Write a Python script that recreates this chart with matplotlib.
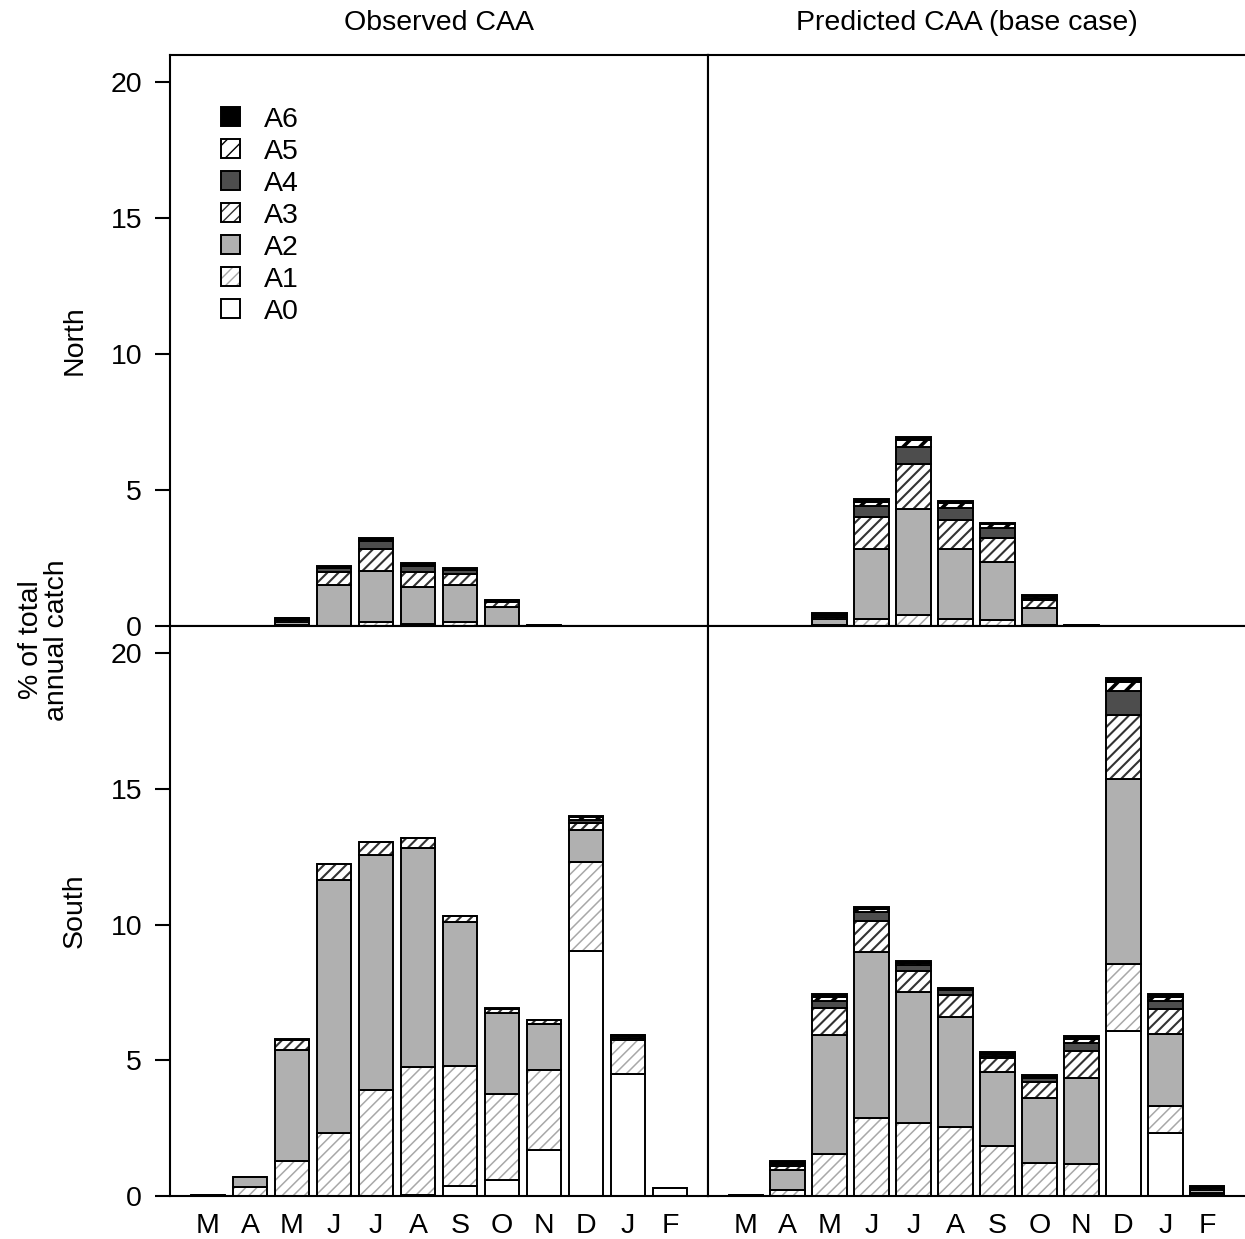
import numpy as np
import matplotlib
matplotlib.use("Agg")
import matplotlib.pyplot as plt
from matplotlib.patches import Patch

plt.rcParams['font.family'] = ['Liberation Sans', 'DejaVu Sans']

months = ["M", "A", "M", "J", "J", "A", "S", "O", "N", "D", "J", "F"]
ages = ["A0", "A1", "A2", "A3", "A4", "A5", "A6"]

# % of total annual catch, one row per age class (A0..A6), Mar..Feb
obs_north = [
    [0, 0, 0, 0, 0, 0, 0, 0, 0, 0, 0, 0],
    [0, 0, 0.02, 0, 0.16, 0.07, 0.15, 0, 0, 0, 0, 0],
    [0, 0, 0.13, 1.50, 1.88, 1.35, 1.37, 0.69, 0.03, 0, 0, 0],
    [0, 0, 0.08, 0.50, 0.80, 0.56, 0.39, 0.20, 0.01, 0, 0, 0],
    [0, 0, 0.04, 0.15, 0.27, 0.23, 0.16, 0.04, 0.01, 0, 0, 0],
    [0, 0, 0.02, 0.03, 0.05, 0.04, 0.03, 0.02, 0, 0, 0, 0],
    [0, 0, 0.02, 0.04, 0.07, 0.08, 0.04, 0.02, 0, 0, 0, 0],
]
pred_north = [
    [0, 0, 0, 0, 0, 0, 0, 0, 0, 0, 0, 0],
    [0, 0, 0.02, 0.25, 0.40, 0.26, 0.22, 0.02, 0, 0, 0, 0],
    [0, 0, 0.22, 2.60, 3.89, 2.56, 2.12, 0.65, 0.02, 0, 0, 0],
    [0, 0, 0.10, 1.16, 1.65, 1.08, 0.90, 0.28, 0.01, 0, 0, 0],
    [0, 0, 0.07, 0.39, 0.65, 0.43, 0.37, 0.08, 0.01, 0, 0, 0],
    [0, 0, 0.04, 0.16, 0.25, 0.18, 0.14, 0.06, 0, 0, 0, 0],
    [0, 0, 0.02, 0.10, 0.12, 0.08, 0.05, 0.05, 0, 0, 0, 0],
]
obs_south = [
    [0, 0, 0, 0, 0, 0.05, 0.37, 0.59, 1.69, 9.04, 4.48, 0.30],
    [0, 0.33, 1.29, 2.32, 3.90, 4.70, 4.41, 3.16, 2.94, 3.28, 1.25, 0],
    [0.03, 0.37, 4.08, 9.33, 8.65, 8.08, 5.33, 3.00, 1.69, 1.18, 0.10, 0],
    [0, 0, 0.38, 0.60, 0.50, 0.37, 0.22, 0.15, 0.18, 0.25, 0.05, 0],
    [0, 0, 0, 0, 0, 0, 0, 0, 0, 0.10, 0.04, 0],
    [0, 0, 0, 0, 0, 0, 0, 0, 0, 0.10, 0, 0],
    [0, 0, 0.02, 0, 0, 0, 0, 0.02, 0, 0.05, 0.02, 0],
]
pred_south = [
    [0, 0, 0, 0, 0, 0, 0, 0, 0, 6.07, 2.32, 0.05],
    [0, 0.22, 1.55, 2.87, 2.68, 2.54, 1.84, 1.20, 1.18, 2.46, 0.99, 0.05],
    [0.03, 0.74, 4.37, 6.13, 4.82, 4.06, 2.72, 2.40, 3.16, 6.84, 2.65, 0.12],
    [0.01, 0.13, 1.01, 1.15, 0.80, 0.80, 0.51, 0.59, 0.99, 2.35, 0.92, 0.06],
    [0.01, 0.08, 0.27, 0.30, 0.20, 0.18, 0.10, 0.15, 0.29, 0.88, 0.32, 0.06],
    [0, 0.06, 0.15, 0.14, 0.10, 0.06, 0.05, 0.05, 0.16, 0.34, 0.15, 0],
    [0, 0.05, 0.08, 0.07, 0.04, 0.04, 0.08, 0.06, 0.10, 0.14, 0.08, 0.03],
]

# fill, hatch, hatch colour, hatch width for A0..A6
styles = [
    ("white", "", "black", 1.0),
    ("white", "///", "#a8a8a8", 1.1),
    ("#b0b0b0", "", "black", 1.0),
    ("white", "///", "#333333", 1.5),
    ("#4d4d4d", "", "black", 1.0),
    ("white", "//", "black", 2.6),
    ("black", "", "black", 1.0),
]

FS = 20.5


def fill_patch(fc, ht, hc, hw, **kw):
    with plt.rc_context({'hatch.linewidth': hw}):
        p = Patch(facecolor=fc, hatch=ht, edgecolor=hc, linewidth=0, **kw)
    return p


def stack(ax, data):
    x = np.arange(len(months))
    bottom = np.zeros(len(months))
    for vals, (fc, ht, hc, hw) in zip(data, styles):
        vals = np.array(vals, dtype=float)
        with plt.rc_context({'hatch.linewidth': hw}):
            b = ax.bar(x, vals, 0.83, bottom=bottom, color=fc, hatch=ht,
                       edgecolor=hc, linewidth=0)
            for p in b:
                try:
                    p.set_hatch_linewidth(hw)
                except AttributeError:
                    pass
        ax.bar(x, vals, 0.83, bottom=bottom, fill=False, edgecolor="black",
               linewidth=1.4)
        bottom += vals
    ax.set_xlim(-0.905, 11.905)
    ax.set_ylim(0, 21)


fig = plt.figure(figsize=(12.45, 12.39), dpi=100)
L, M = 170 / 1245, 708 / 1245
yb, ym, yt = 1 - 1196 / 1239, 1 - 626 / 1239, 1 - 55 / 1239
ax_on = fig.add_axes([L, ym, M - L, yt - ym])
ax_pn = fig.add_axes([M, ym, 1 - M, yt - ym])
ax_os = fig.add_axes([L, yb, M - L, ym - yb])
ax_ps = fig.add_axes([M, yb, 1 - M, ym - yb])

for ax, d in [(ax_on, obs_north), (ax_pn, pred_north),
              (ax_os, obs_south), (ax_ps, pred_south)]:
    stack(ax, d)
    for s in ax.spines.values():
        s.set_linewidth(1.5)
    ax.spines['right'].set_visible(ax in (ax_on, ax_os))
    ax.tick_params(axis='x', length=0, pad=12, labelsize=FS)
    ax.tick_params(axis='y', length=11, width=1.5, pad=9, labelsize=FS)
    ax.set_yticks([0, 5, 10, 15, 20])
    ax.set_xticks(np.arange(len(months)))
    if ax in (ax_os, ax_ps):
        ax.set_xticklabels(months)
    else:
        ax.set_xticklabels([])
    if ax in (ax_pn, ax_ps):
        ax.tick_params(axis='y', left=False, labelleft=False)

handles = []
for fc, ht, hc, hw in styles:
    handles.append((fill_patch(fc, ht, hc, hw),
                    Patch(fill=False, edgecolor="black", linewidth=1.4)))
ax_on.legend(handles[::-1], ages[::-1], loc="upper left",
             bbox_to_anchor=(0.095, 0.909), frameon=False, fontsize=FS,
             handlelength=0.65, handleheight=0.65, handletextpad=0.85,
             labelspacing=0.21, borderaxespad=0, borderpad=0)

fig.text((L + M) / 2, 1 - 23 / 1239, "Observed CAA", ha="center",
         va="center", fontsize=FS)
fig.text((M + 1) / 2 - 0.008, 1 - 23 / 1239, "Predicted CAA (base case)",
         ha="center", va="center", fontsize=FS)
fig.text(75 / 1245, (ym + yt) / 2, "North", rotation=90, ha="center",
         va="center", fontsize=FS)
fig.text(75 / 1245, (yb + ym) / 2, "South", rotation=90, ha="center",
         va="center", fontsize=FS)
fig.text(44 / 1245, 1 - 640 / 1239, "% of total\nannual catch", rotation=90,
         ha="center", va="center", fontsize=FS, linespacing=1.0)

fig.savefig("out.png", dpi=100)
